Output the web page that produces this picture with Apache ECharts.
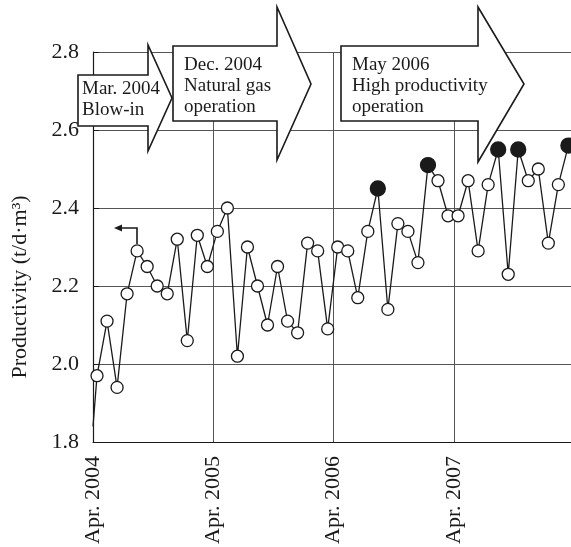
<!DOCTYPE html>
<html>
<head>
    <meta charset="UTF-8">
    <title></title>
    <style>
        html, body { margin: 0; padding: 0; background: #fff; }
    </style>
</head>
<body>
<div id="main" style="width: 571px;height:547px;"></div>
<script type="text/javascript" src="https://cdn.jsdelivr.net/npm/echarts@6/dist/echarts.min.js"></script>
<script type="text/javascript">
    // data (monthly productivity, t/d·m3)
    var startValue = 1.84;          // line starts at Apr. 2004 without marker
    var monthOffset = 0.4;          // markers sit a bit after the month tick
    var productivity = [1.97, 2.11, 1.94, 2.18, 2.29, 2.25, 2.20, 2.18, 2.32, 2.06,
        2.33, 2.25, 2.34, 2.40, 2.02, 2.30, 2.20, 2.10, 2.25, 2.11,
        2.08, 2.31, 2.29, 2.09, 2.30, 2.29, 2.17, 2.34, 2.45, 2.14,
        2.36, 2.34, 2.26, 2.51, 2.47, 2.38, 2.38, 2.47, 2.29, 2.46,
        2.55, 2.23, 2.55, 2.47, 2.50, 2.31, 2.46, 2.56];
    var filledIdx = [28, 33, 40, 42, 47];
    var tickLabels = ['Apr. 2004', 'Apr. 2005', 'Apr. 2006', 'Apr. 2007'];

    var font = 'Liberation Serif';

    var lineData = [{value: [0, startValue], symbol: 'none'}];
    productivity.forEach(function (v, i) {
        var filled = filledIdx.indexOf(i) >= 0;
        lineData.push({
            value: [i + monthOffset, v],
            symbolSize: filled ? 15 : 12,
            itemStyle: {color: filled ? '#1a1a1a' : '#fff', borderColor: '#1a1a1a', borderWidth: 1.3}
        });
    });

    // block arrow outline
    function blockArrow(L, T, B, X, HT, HB, TX, TY) {
        return {
            type: 'polygon',
            z: 100,
            shape: {points: [[L, T], [X, T], [X, HT], [TX, TY], [X, HB], [X, B], [L, B]]},
            style: {fill: '#fff', stroke: '#1a1a1a', lineWidth: 1.6}
        };
    }
    function label(x, y, s) {
        return {
            type: 'text', z: 101, x: x, y: y,
            style: {text: s, font: '19px ' + font, fill: '#1a1a1a', textVerticalAlign: 'middle'}
        };
    }

    var myChart = echarts.init(document.getElementById('main'));
    var option = {
        animation: false,
        grid: {left: 93, right: 0, top: 52, bottom: 105},
        xAxis: {
            type: 'value',
            min: 0,
            max: 47.66,
            interval: 12,
            axisLine: {lineStyle: {color: '#1a1a1a', width: 1.2}},
            axisTick: {show: false},
            splitLine: {lineStyle: {color: '#555', width: 1}},
            axisLabel: {
                rotate: 90,
                margin: 14,
                showMaxLabel: false,
                fontFamily: font,
                fontSize: 22,
                color: '#1a1a1a',
                formatter: function (v) {
                    return (v % 12 === 0 && v / 12 < tickLabels.length) ? tickLabels[v / 12] : '';
                }
            }
        },
        yAxis: {
            type: 'value',
            min: 1.8,
            max: 2.8,
            interval: 0.2,
            axisLine: {show: true, lineStyle: {color: '#1a1a1a', width: 1.2}},
            axisTick: {show: true, inside: true, length: 6, lineStyle: {color: '#1a1a1a'}},
            splitLine: {lineStyle: {color: '#555', width: 1}},
            axisLabel: {
                margin: 14,
                fontFamily: font,
                fontSize: 22,
                color: '#1a1a1a',
                formatter: function (v) { return v.toFixed(1); }
            }
        },
        series: [{
            type: 'line',
            data: lineData,
            symbol: 'circle',
            lineStyle: {color: '#1a1a1a', width: 1.3},
            z: 3
        }],
        graphic: [
            blockArrow(78, 75, 126, 148, 45, 151, 172, 98),
            blockArrow(173, 46, 121, 277, 7, 160, 311, 84),
            blockArrow(341, 46, 121, 478, 7, 162, 524, 84),
            label(82, 89, 'Mar. 2004'),
            label(82, 110, 'Blow-in'),
            label(184, 65, 'Dec. 2004'),
            label(184, 86, 'Natural gas'),
            label(184, 107, 'operation'),
            label(352, 65, 'May 2006'),
            label(352, 86, 'High productivity'),
            label(352, 107, 'operation'),
            // small bent arrow pointing left
            {type: 'polyline', z: 50, shape: {points: [[137, 244], [137, 228], [121, 228]]},
                style: {stroke: '#1a1a1a', lineWidth: 1.6, fill: null}},
            {type: 'polygon', z: 50, shape: {points: [[114, 228], [122, 224.5], [122, 231.5]]},
                style: {fill: '#1a1a1a'}},
            {
                type: 'text', z: 101, x: 20, y: 287, rotation: Math.PI / 2,
                style: {text: 'Productivity (t/d·m³)', font: '22px ' + font, fill: '#1a1a1a',
                    textAlign: 'center', textVerticalAlign: 'middle'}
            }
        ]
    };
    myChart.setOption(option);
</script>
</body>
</html>
